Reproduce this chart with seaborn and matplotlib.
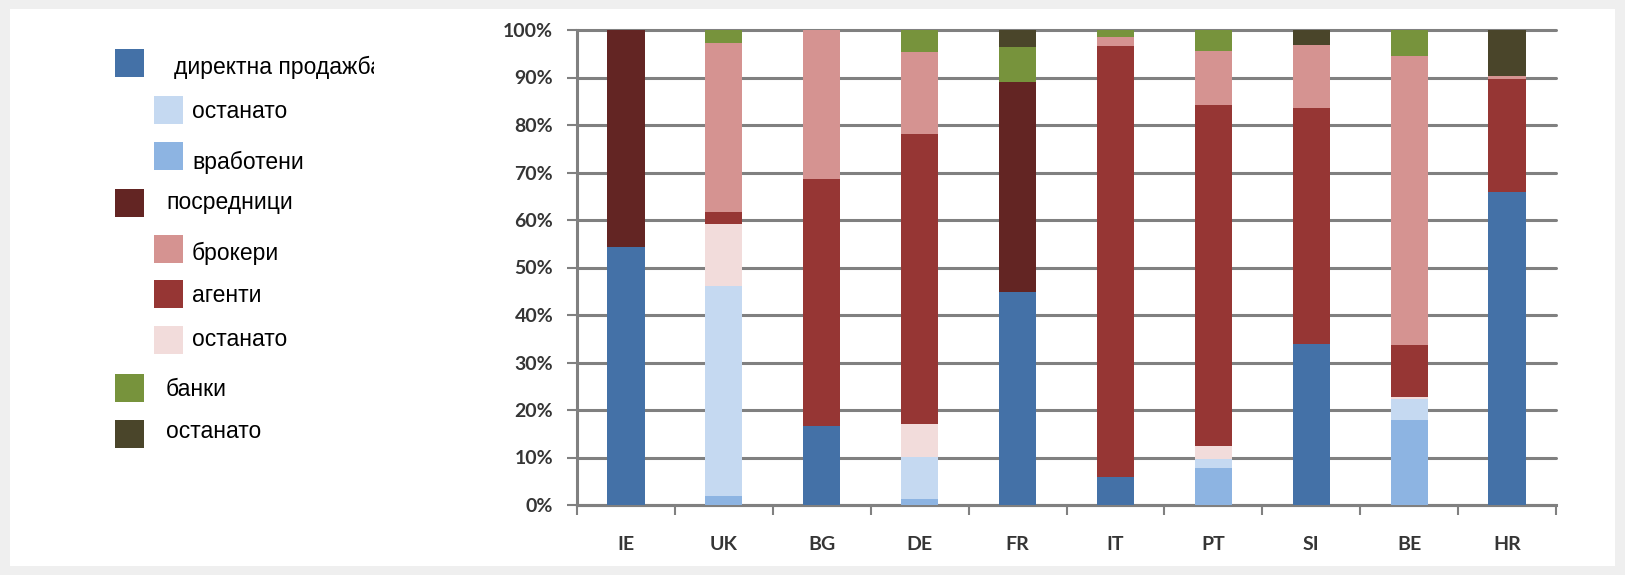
import numpy as np
import pandas as pd
import matplotlib.pyplot as plt
from matplotlib.patches import Rectangle
from matplotlib.transforms import Bbox
import seaborn as sns

# ---------- data (shares in %, bottom -> top of each bar) ----------
countries = ["IE", "UK", "BG", "DE", "FR", "IT", "PT", "SI", "BE", "HR"]

direct_sales   = [54.4, 0.0, 16.7, 0.0, 44.9, 5.8, 0.0, 33.9, 0.0, 65.8]
employees      = [0.0, 1.8, 0.0, 1.3, 0.0, 0.0, 7.8, 0.0, 17.8, 0.0]
direct_other   = [0.0, 44.4, 0.0, 8.9, 0.0, 0.0, 1.9, 0.0, 4.5, 0.0]
interm_other   = [0.0, 13.0, 0.0, 6.9, 0.0, 0.0, 2.8, 0.0, 0.4, 0.0]
agents         = [0.0, 2.4, 51.9, 61.0, 0.0, 90.9, 71.7, 49.6, 10.9, 23.9]
brokers        = [0.0, 35.6, 31.4, 17.2, 0.0, 1.9, 11.3, 13.3, 61.0, 0.7]
intermediaries = [45.6, 0.0, 0.0, 0.0, 44.2, 0.0, 0.0, 0.0, 0.0, 0.0]
banks          = [0.0, 2.8, 0.0, 4.7, 7.4, 1.4, 4.5, 0.0, 5.4, 0.0]
other          = [0.0, 0.0, 0.0, 0.0, 3.5, 0.0, 0.0, 3.2, 0.0, 9.6]

series = [
    ("директна продажба", direct_sales, "#4471A7"),
    ("вработени", employees, "#8DB4E2"),
    ("останато ", direct_other, "#C5D9F1"),
    ("останато  ", interm_other, "#F2DCDB"),
    ("агенти", agents, "#963634"),
    ("брокери", brokers, "#D59391"),
    ("посредници", intermediaries, "#632523"),
    ("банки", banks, "#77933C"),
    ("останато", other, "#4A452A"),
]

# legend rows: (label, colour, indented?)
legend_rows = [
    ("директна продажба", "#4471A7", False),
    ("останато", "#C5D9F1", True),
    ("вработени", "#8DB4E2", True),
    ("посредници", "#632523", False),
    ("брокери", "#D59391", True),
    ("агенти", "#963634", True),
    ("останато", "#F2DCDB", True),
    ("банки", "#77933C", False),
    ("останато", "#4A452A", False),
]

# ---------- build table ----------
df = pd.DataFrame({name: vals for name, vals, _ in series}, index=countries)
df = df.div(df.sum(axis=1), axis=0) * 100
cum = df.cumsum(axis=1)

# ---------- style ----------
sns.set_style("white")
plt.rcParams["font.family"] = ["Liberation Sans", "DejaVu Sans"]

W, H = 1625, 575
fig = plt.figure(figsize=(W / 100, H / 100), dpi=100)
fig.patch.set_facecolor("#EFEFEF")
fig.add_artist(Rectangle((10 / W, 9 / H), 1605 / W, 557 / H, transform=fig.transFigure,
                         facecolor="white", edgecolor="none", zorder=0))

ax = fig.add_axes([577 / W, 1 - 505 / H, 979 / W, 475 / H])
ax.set_facecolor("none")

# stacked bars: draw cumulative totals from the top series down
for name, _, color in reversed(series):
    sns.barplot(x=countries, y=cum[name].values, color=color, width=0.38,
                saturation=1, ax=ax, zorder=3, linewidth=0)

ax.set_ylim(0, 100)
ax.set_xlim(-0.5, len(countries) - 0.5)
ax.set_yticks(np.arange(0, 101, 10))
ax.set_yticklabels([f"{v}%" for v in range(0, 101, 10)])
ax.set_xticks(range(len(countries)))
ax.set_xticklabels(countries)
ax.set_xticks(np.arange(-0.5, len(countries), 1), minor=True)

grid_c = "#808080"
ax.yaxis.grid(True, color=grid_c, linewidth=2.2, zorder=1)
ax.set_axisbelow(True)
for gl in ax.yaxis.get_gridlines():
    gl.set_clip_on(False)

for s in ["top", "right"]:
    ax.spines[s].set_visible(False)
for s in ["left", "bottom"]:
    ax.spines[s].set_color(grid_c)
    ax.spines[s].set_linewidth(2.2)

ax.tick_params(axis="y", which="major", direction="out", length=7.2, width=1.5,
               color=grid_c, pad=10, labelsize=14, labelcolor="#353535", left=True)
ax.tick_params(axis="x", which="major", length=0, pad=22, labelsize=14,
               labelcolor="#353535")
ax.tick_params(axis="x", which="minor", direction="out", length=7.2, width=1.5,
               color=grid_c, bottom=True)
for lab in ax.get_xticklabels() + ax.get_yticklabels():
    lab.set_fontfamily(["Lato", "DejaVu Sans"])
    lab.set_fontweight("bold")
ax.set_xlabel("")
ax.set_ylabel("")

# ---------- legend on the left ----------
sq_y = [63, 110, 156, 203, 249, 294, 340, 388, 434]
txt_y = [67, 112, 162, 203, 253, 296, 340, 390, 432]
clip = Bbox.from_extents(0, 0, 374, H)
for (label, color, indent), sy, ty in zip(legend_rows, sq_y, txt_y):
    x0 = 154 if indent else 115
    fig.add_artist(Rectangle((x0 / W, 1 - (sy + 14) / H), 29 / W, 28 / H,
                             transform=fig.transFigure, facecolor=color,
                             edgecolor="none", zorder=2))
    if label == "директна продажба":
        tx = 174
    elif indent:
        tx = 192
    else:
        tx = 166
    t = fig.text(tx / W, 1 - ty / H, label, fontsize=16.5, color="black",
                 va="center", ha="left")
    t.set_clip_box(clip)
    t.set_clip_on(True)

fig.savefig("out.png", dpi=100, facecolor=fig.get_facecolor())
